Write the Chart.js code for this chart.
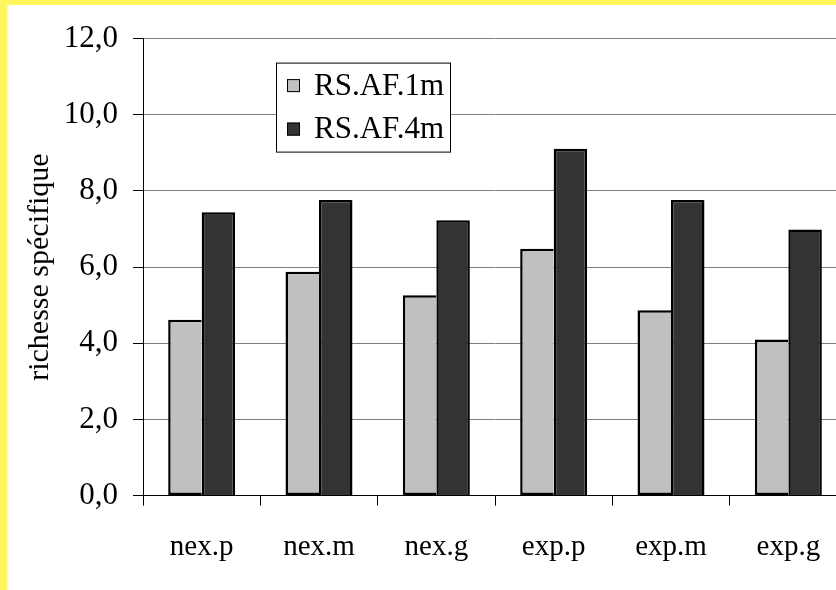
<!DOCTYPE html>
<html>
<head>
<meta charset="utf-8">
<script src="https://cdn.jsdelivr.net/npm/chart.js@4/dist/chart.umd.min.js"></script>
<style>
  html, body { margin: 0; padding: 0; width: 836px; height: 590px; overflow: hidden; background: #fff65e; }
  #frame { position: absolute; left: 7px; top: 5px; width: 850px; height: 585px; background: #ffffff; }
  canvas { display: block; }
</style>
</head>
<body>
<div id="frame"><canvas id="chart" width="850" height="585"></canvas></div>
<script>
// Species richness per site group, two sampling distances
const categories = ['nex.p', 'nex.m', 'nex.g', 'exp.p', 'exp.m', 'exp.g'];
const seriesNames = ['RS.AF.1m', 'RS.AF.4m'];
const rs1m = [4.62, 5.88, 5.26, 6.48, 4.87, 4.10];
const rs4m = [7.44, 7.76, 7.23, 9.11, 7.76, 6.99];
const yTicks = [0, 2, 4, 6, 8, 10, 12];
const axisTitle = 'richesse spécifique';

const FONT = "'Liberation Serif', 'Times New Roman', serif";
const fillColors = ['#c0c0c0', '#333333'];
const edgeColor = '#000000';

// Boxed legend drawn inside the plot area
const boxLegend = {
  id: 'boxLegend',
  afterDraw(chart) {
    const { ctx, chartArea } = chart;
    const x = chartArea.left + 133;
    const y = chartArea.top + 24;
    const w = 174, h = 89;
    ctx.save();
    ctx.fillStyle = '#ffffff';
    ctx.fillRect(x, y, w, h);
    ctx.strokeStyle = '#000000';
    ctx.lineWidth = 1;
    ctx.strokeRect(x + 0.5, y + 0.5, w, h);
    ctx.font = '31px ' + FONT;
    ctx.textBaseline = 'middle';
    ctx.textAlign = 'left';
    chart.data.datasets.forEach((ds, i) => {
      const cy = y + 23 + i * 43.5;
      ctx.fillStyle = ds.backgroundColor;
      ctx.fillRect(x + 11, cy - 6.5, 13, 13);
      ctx.strokeStyle = '#000000';
      ctx.lineWidth = 1;
      ctx.strokeRect(x + 11.5, cy - 6, 12, 12);
      ctx.fillStyle = '#000000';
      ctx.fillText(ds.label, x + 38, cy + 1);
    });
    ctx.restore();
  }
};

new Chart(document.getElementById('chart'), {
  type: 'bar',
  data: {
    labels: categories,
    datasets: [
      {
        label: seriesNames[0],
        data: rs1m,
        backgroundColor: fillColors[0],
        borderColor: edgeColor,
        borderWidth: 2.5,
        borderSkipped: 'right',
        inflateAmount: 0
      },
      {
        label: seriesNames[1],
        data: rs4m,
        backgroundColor: fillColors[1],
        borderColor: edgeColor,
        borderWidth: 2.5,
        borderSkipped: 'start',
        inflateAmount: 0
      }
    ]
  },
  options: {
    responsive: false,
    animation: false,
    devicePixelRatio: 1,
    layout: { padding: { top: 28.7, right: 10, bottom: 0, left: 0 } },
    plugins: {
      legend: { display: false },
      tooltip: { enabled: false }
    },
    datasets: {
      bar: { categoryPercentage: 0.571, barPercentage: 1 }
    },
    scales: {
      x: {
        grid: {
          offset: true,
          drawOnChartArea: false,
          drawTicks: true,
          tickLength: 10,
          tickColor: '#000000'
        },
        border: { color: '#000000', width: 1 },
        ticks: { color: '#000000', font: { family: FONT, size: 29 }, padding: 24, maxRotation: 0, autoSkip: false },
        afterFit(scale) { scale.height = 94.4; }
      },
      y: {
        min: 0,
        max: 12,
        afterBuildTicks(scale) { scale.ticks = yTicks.map(v => ({ value: v })); },
        grid: {
          color: '#808080',
          lineWidth: 1,
          tickLength: 10,
          tickColor: '#000000'
        },
        border: { color: '#000000', width: 1 },
        ticks: {
          color: '#000000',
          font: { family: FONT, size: 31 },
          padding: 15,
          callback: v => v.toFixed(1).replace('.', ',')
        },
        title: {
          display: true,
          text: axisTitle,
          color: '#000000',
          font: { family: FONT, size: 30 },
          padding: { top: 15.5, bottom: 0 }
        },
        afterFit(scale) { scale.width = 136; }
      }
    }
  },
  plugins: [boxLegend]
});
</script>
</body>
</html>
